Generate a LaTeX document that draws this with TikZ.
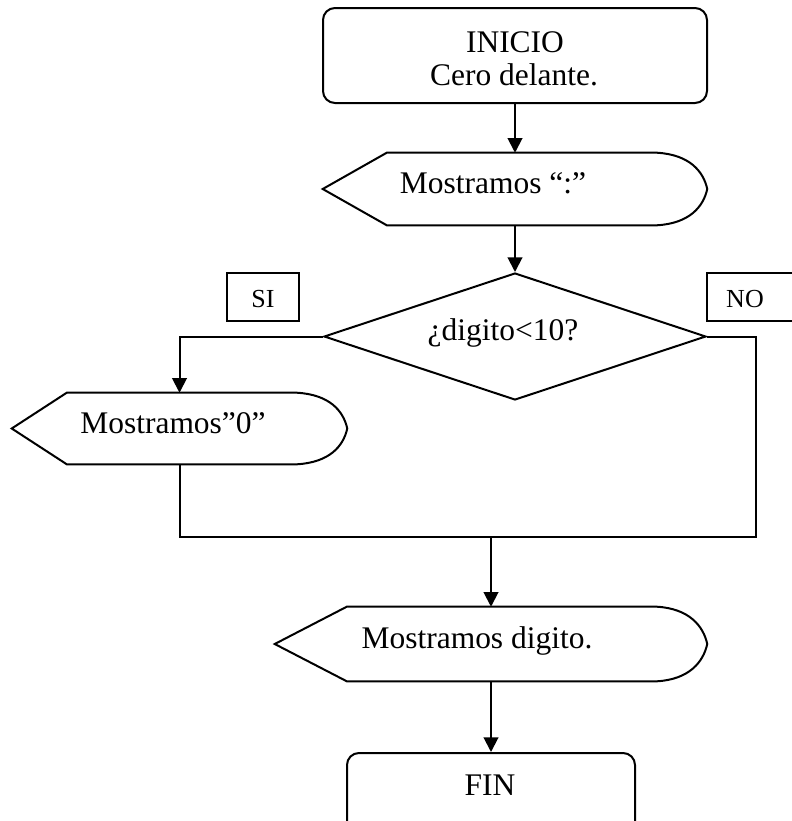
\documentclass[tikz,border=0pt]{standalone}
\usepackage{fontspec}
\setmainfont{Liberation Serif}
\usetikzlibrary{shapes.geometric,arrows.meta,calc}

\tikzset{
  every picture/.style={line join=miter},
  line/.style={draw=black, line width=1.5pt},
  flow/.style={line, -{Triangle[length=11pt,width=11pt]}},
  termbox/.style={line, rectangle, rounded corners=9pt, inner sep=0pt},
  shapebox/.style={rectangle, inner sep=0pt},
  decision/.style={line, diamond, inner sep=0pt, aspect=2.94},
  tagbox/.style={line, rectangle, inner sep=0pt},
  txt/.style={font=\fontsize{23.6}{26}\selectfont, inner sep=0pt, anchor=base},
  tagtxt/.style={font=\fontsize{19.5}{22}\selectfont, inner sep=0pt, anchor=base},
}

% display (output) symbol: pointed left end, rounded right end
\newcommand{\displayoutline}[2]{%
  \draw[line] (#1.west)
    -- ($(#1.north west)+(#2,0)$)
    -- ($(#1.north east)+(-50,0)$)
    .. controls ($(#1.north east)+(-18,2)$) and ($(#1.east)+(-4,-18)$) .. (#1.east)
    .. controls ($(#1.east)+(-4,18)$) and ($(#1.south east)+(-18,-2)$) .. ($(#1.south east)+(-50,0)$)
    -- ($(#1.south west)+(#2,0)$) -- cycle;}

\begin{document}
\begin{tikzpicture}[x=0.75pt, y=-0.75pt]
  \useasboundingbox (0,0) rectangle (792,821);
  \clip (0,0) rectangle (792,821);

  % start
  \node[termbox, minimum width=384*0.75pt, minimum height=95*0.75pt] (inicio) at (515,55.5) {};
  \node[txt] (inicioA) at (515,52) {INICIO};
  \node[txt] (inicioB) at (514,85) {Cero delante.};

  % show ":"
  \node[shapebox, minimum width=384*0.75pt, minimum height=72*0.75pt] (show1) at (515,189) {};
  \displayoutline{show1}{64}
  \node[txt] (show1t) at (493,193) {Mostramos “:”};

  % decision
  \node[decision, minimum width=382*0.75pt, minimum height=127*0.75pt] (dec) at (515,336.5) {};
  \node[txt] (dect) at (503,340) {¿digito<10?};

  % branch labels
  \node[tagbox, minimum width=72*0.75pt, minimum height=48*0.75pt] (si) at (263,297) {};
  \node[tagtxt] (sit) at (263,307) {SI};
  \node[tagbox, minimum width=86*0.75pt, minimum height=48*0.75pt] (no) at (750,297) {};
  \node[tagtxt] (not) at (745,307) {NO};

  % show "0"
  \node[shapebox, minimum width=335*0.75pt, minimum height=71*0.75pt] (show0) at (179.5,428.5) {};
  \displayoutline{show0}{55}
  \node[txt] (show0t) at (173,433) {Mostramos”0”};

  % show digit
  \node[shapebox, minimum width=432*0.75pt, minimum height=74*0.75pt] (show2) at (491,644) {};
  \displayoutline{show2}{72}
  \node[txt] (show2t) at (477,648) {Mostramos digito.};

  % end
  \node[termbox, minimum width=288*0.75pt, minimum height=110*0.75pt] (fin) at (491,808) {};
  \node[txt] (fint) at (490,795) {FIN};

  % connectors
  \coordinate (mergeR) at (756,537);
  \coordinate (join) at (show2.north |- mergeR);

  \draw[flow] (inicio.south) -- (show1.north);
  \draw[flow] (show1.south) -- (dec.north);
  \draw[flow] (dec.west) -| (show0.north);
  \draw[line] (dec.east) -| (mergeR) -| (show0.south);
  \draw[flow] (join) -- (show2.north);
  \draw[flow] (show2.south) -- (fin.north);
\end{tikzpicture}
\end{document}
